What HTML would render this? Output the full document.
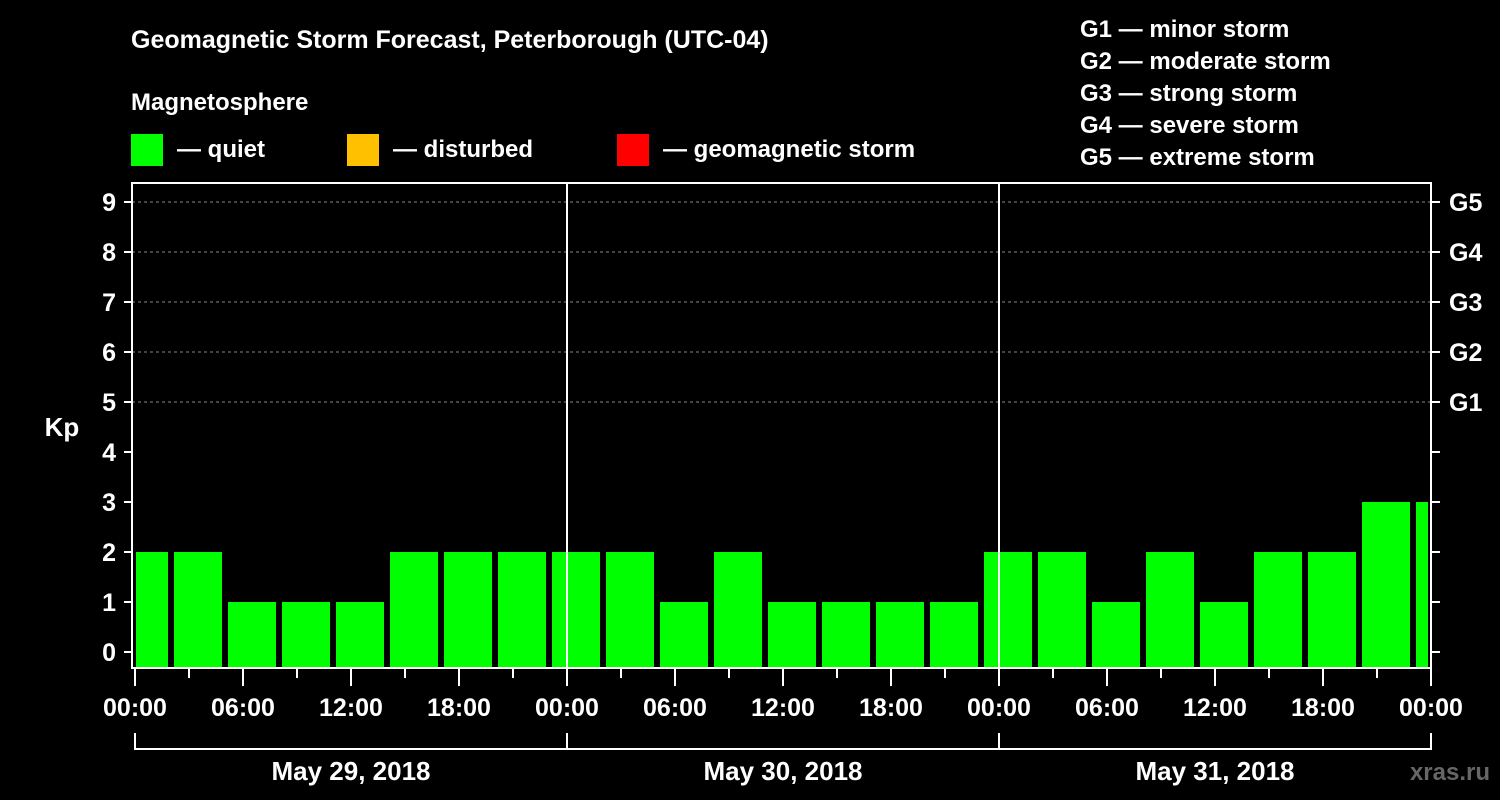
<!DOCTYPE html>
<html><head><meta charset="utf-8"><style>
html,body{margin:0;padding:0;background:#000;}
svg{display:block;font-family:"Liberation Sans",sans-serif;font-weight:bold;}
</style></head><body>
<svg id="chart" width="1500" height="800" viewBox="0 0 1500 800">
<rect x="0" y="0" width="1500" height="800" fill="#000"/>
<text x="131" y="48" font-size="25" fill="#fff">Geomagnetic Storm Forecast, Peterborough (UTC-04)</text>
<text x="131" y="110" font-size="24" fill="#fff">Magnetosphere</text>
<g><rect x="131" y="134" width="32" height="32" fill="#00ff00"/><text x="177" y="157" font-size="24" fill="#fff">— quiet</text></g>
<g><rect x="347" y="134" width="32" height="32" fill="#ffc000"/><text x="393" y="157" font-size="24" fill="#fff">— disturbed</text></g>
<g><rect x="617" y="134" width="32" height="32" fill="#ff0000"/><text x="663" y="157" font-size="24" fill="#fff">— geomagnetic storm</text></g>
<g font-size="24" fill="#fff">
<text x="1080" y="37">G1 — minor storm</text>
<text x="1080" y="69">G2 — moderate storm</text>
<text x="1080" y="101">G3 — strong storm</text>
<text x="1080" y="133">G4 — severe storm</text>
<text x="1080" y="165">G5 — extreme storm</text>
</g>
<text x="62" y="436" font-size="26" fill="#fff" text-anchor="middle">Kp</text>
<text x="1490" y="780" font-size="24" fill="#666" text-anchor="end">xras.ru</text>
<g id="grid"></g>
<g id="bars"></g>
<g id="axes"></g>
</svg>
<script>
const kpValues=[2,2,1,1,1,2,2,2,2,2,1,2,1,1,1,1,2,2,1,2,1,2,2,3,3];
const yTicks=[0,1,2,3,4,5,6,7,8,9];
const gLabels=["G1","G2","G3","G4","G5"];
const xLabels=["00:00","06:00","12:00","18:00","00:00","06:00","12:00","18:00","00:00","06:00","12:00","18:00","00:00"];
const dayLabels=["May 29, 2018","May 30, 2018","May 31, 2018"];
const NS="http://www.w3.org/2000/svg";
const X0=135,PX_H=18,Y0=652,PX_K=50,TOP=183,BOT=668,RIGHT=1431;
const xs=h=>X0+h*PX_H, ys=k=>Y0-k*PX_K;
function mk(t,a,p){const e=document.createElementNS(NS,t);for(const k in a)e.setAttribute(k,a[k]);(p||document.getElementById('axes')).appendChild(e);return e;}
const grid=document.getElementById('grid'),bars=document.getElementById('bars'),axes=document.getElementById('axes');
// grid lines
for(let k=5;k<=9;k++){const l=mk('line',{x1:132,x2:RIGHT,y1:ys(k),y2:ys(k),stroke:'#888','stroke-dasharray':'3,3','stroke-width':1},grid);

}
// bars: first bar starts at -1h (local 23:00 previous day)
kpValues.forEach((v,i)=>{let h0=-1+3*i,h1=h0+3;let x0=Math.max(xs(h0)+3,X0+1),x1=Math.min(xs(h1)-3,RIGHT-3);
const r=mk('rect',{x:x0,y:ys(v),width:x1-x0,height:BOT-ys(v),fill:v>=5?'#ff0000':(v>=4?'#ffc000':'#00ff00')},bars);

});
// frame
const fr=mk('rect',{x:132,y:TOP,width:RIGHT-132,height:BOT-TOP,fill:'none',stroke:'#fff','stroke-width':2});


[24,48].forEach(h=>{const l=mk('line',{x1:xs(h),x2:xs(h),y1:TOP,y2:BOT,stroke:'#fff','stroke-width':2});

});
// y ticks
yTicks.forEach(k=>{mk('line',{x1:124,x2:132,y1:ys(k),y2:ys(k),stroke:'#fff','stroke-width':2});
mk('line',{x1:RIGHT,x2:RIGHT+9,y1:ys(k),y2:ys(k),stroke:'#fff','stroke-width':2});
const t=mk('text',{x:116,y:ys(k)+9,'font-size':25,fill:'#fff','text-anchor':'end'});t.textContent=k;

});
gLabels.forEach((g,i)=>{const t=mk('text',{x:1449,y:ys(5+i)+9,'font-size':25,fill:'#fff'});t.textContent=g;

});
// x ticks
for(let h=0;h<=72;h+=3){const major=h%6===0;mk('line',{x1:xs(h),x2:xs(h),y1:BOT,y2:major?686:678,stroke:'#fff','stroke-width':2});}
xLabels.forEach((s,i)=>{const t=mk('text',{x:xs(i*6),y:716,'font-size':25,fill:'#fff','text-anchor':'middle'});t.textContent=s;

});
// day bracket
mk('line',{x1:X0,x2:RIGHT,y1:749,y2:749,stroke:'#fff','stroke-width':2});
[0,24,48,72].forEach(h=>mk('line',{x1:xs(h),x2:xs(h),y1:733,y2:750,stroke:'#fff','stroke-width':2}));
dayLabels.forEach((d,i)=>{const t=mk('text',{x:xs(12+24*i),y:780,'font-size':26,fill:'#fff','text-anchor':'middle'});t.textContent=d;

});
</script>
</body></html>
